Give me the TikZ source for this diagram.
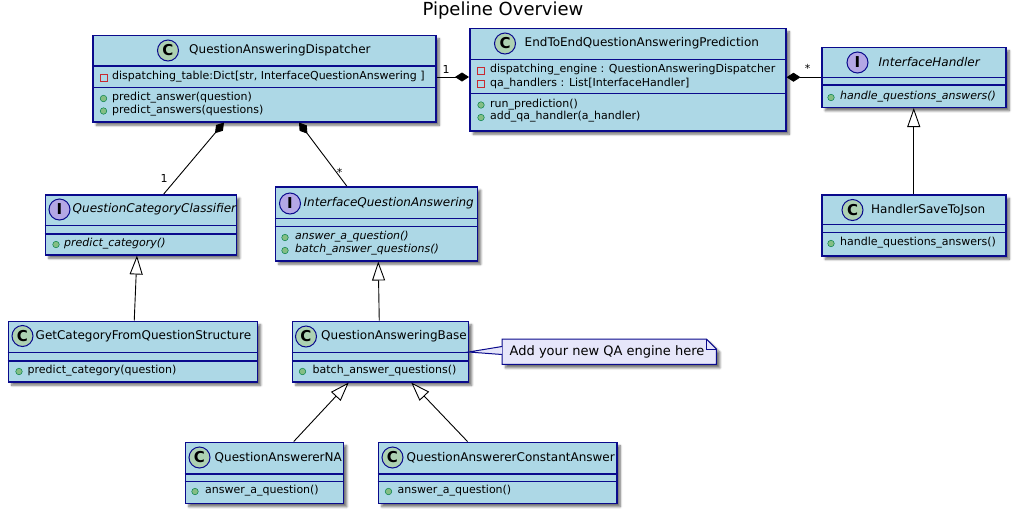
\documentclass[tikz,border=0pt]{standalone}
\usepackage{fontspec}
\setmainfont{DejaVu Sans}
\usetikzlibrary{shadows.blur,arrows.meta}
\definecolor{cfill}{HTML}{ADD8E6}
\definecolor{cbord}{HTML}{0A0A8C}
\definecolor{notefill}{HTML}{E6E6FA}
\definecolor{cicon}{HTML}{ADD1B2}
\definecolor{iicon}{HTML}{B4A7E5}
\definecolor{privred}{HTML}{C82930}
\definecolor{pubfill}{HTML}{84BE84}
\definecolor{pubbord}{HTML}{038048}
\tikzset{
  classbox/.style={draw=cbord, fill=cfill, line width=1.5pt, inner sep=0pt,
    blur shadow={shadow xshift=3.5pt, shadow yshift=-3.5pt, shadow blur steps=6, shadow opacity=55}},
  divline/.style={draw=cbord, line width=1.5pt},
  cname/.style={anchor=west, inner sep=0pt, font=\fontsize{12}{14}\selectfont},
  member/.style={anchor=west, inner sep=0pt, font=\fontsize{11}{13}\selectfont},
  iconC/.style={circle, draw=cbord, fill=cicon, line width=1pt, minimum size=21pt, inner sep=0pt, font=\fontsize{15}{15}\selectfont\bfseries},
  iconI/.style={circle, draw=cbord, fill=iicon, line width=1pt, minimum size=21pt, inner sep=0pt, font=\fontsize{15}{15}\selectfont\bfseries},
  pub/.style={circle, draw=pubbord, fill=pubfill, line width=0.5pt, minimum size=6.5pt, inner sep=0pt},
  priv/.style={rectangle, draw=privred, line width=1pt, minimum size=7pt, inner sep=0pt},
  conn/.style={draw=black, line width=0.9pt},
  comp/.style={conn, -{Diamond[length=14pt,width=9pt,fill=black]}},
  inh/.style={conn, -{Triangle[open,length=19pt,width=13pt,fill=white]}},
  mult/.style={inner sep=0pt, font=\fontsize{11}{13}\selectfont},
}
% name, x1, y1, x2, y2, d1, d2
\newcommand\umlclass[7]{%
  \node[classbox, anchor=north west, minimum width=#4pt-#2pt, minimum height=#5pt-#3pt] (#1) at (#2,#3) {};
  \draw[divline] (#2,#6) -- (#4,#6);
  \draw[divline] (#2,#7) -- (#4,#7);
}
\begin{document}
\begin{tikzpicture}[x=1pt, y=-1pt]
\useasboundingbox (0,0) rectangle (1018,515);

\node[inner sep=0pt, font=\fontsize{18}{20}\selectfont] (title) at (503,11) {Pipeline Overview};

% ---------- QuestionAnsweringDispatcher
\umlclass{disp}{92}{34.5}{435}{121}{66}{87.5}
\node[iconC] (dispI) at (168,50.5) {C};
\node[cname] (dispN) at (189,50.5) {QuestionAnsweringDispatcher};
\node[priv] (dispA1i) at (103.5,77.5) {};
\node[member] (dispA1) at (112,77) {dispatching\_table:Dict[str, InterfaceQuestionAnswering ]};
\node[pub] (dispM1i) at (103.5,98.5) {};
\node[member] (dispM1) at (112,97.5) {predict\_answer(question)};
\node[pub] (dispM2i) at (103.5,111) {};
\node[member] (dispM2) at (112,110.5) {predict\_answers(questions)};

% ---------- EndToEndQuestionAnsweringPrediction
\umlclass{e2e}{469}{27.5}{785}{130}{59.5}{93.5}
\node[iconC] (e2eI) at (505,43.5) {C};
\node[cname] (e2eN) at (524.5,43.5) {EndToEndQuestionAnsweringPrediction};
\node[priv] (e2eA1i) at (481,70.5) {};
\node[member] (e2eA1) at (490,70) {dispatching\_engine : QuestionAnsweringDispatcher};
\node[priv] (e2eA2i) at (481,84) {};
\node[member] (e2eA2) at (490,83.5) {qa\_handlers : List[InterfaceHandler]};
\node[pub] (e2eM1i) at (481,105) {};
\node[member] (e2eM1) at (490,104.5) {run\_prediction()};
\node[pub] (e2eM2i) at (481,117.5) {};
\node[member] (e2eM2) at (490,117) {add\_qa\_handler(a\_handler)};

% ---------- InterfaceHandler
\umlclass{ih}{821}{46.5}{1005}{106.5}{77.5}{85}
\node[iconI] (ihI) at (857.5,62.5) {I};
\node[cname, font=\fontsize{12}{14}\selectfont\itshape] (ihN) at (878.5,62.5) {InterfaceHandler};
\node[pub] (ihM1i) at (831,97.5) {};
\node[member, font=\fontsize{11}{13}\selectfont\itshape] (ihM1) at (840,97) {handle\_questions\_answers()};

% ---------- HandlerSaveToJson
\umlclass{hsj}{821}{194}{1005}{255}{224.5}{232.5}
\node[iconC] (hsjI) at (852.5,210) {C};
\node[cname] (hsjN) at (871,210) {HandlerSaveToJson};
\node[pub] (hsjM1i) at (831,243.5) {};
\node[member] (hsjM1) at (840,243) {handle\_questions\_answers()};

% ---------- QuestionCategoryClassifier
\umlclass{qcc}{44.5}{194}{235.5}{254}{225.5}{234}
\node[iconI] (qccI) at (59.5,209.5) {I};
\node[cname, font=\fontsize{12}{14}\selectfont\itshape] (qccN) at (72.5,209.5) {QuestionCategoryClassifier};
\node[pub] (qccM1i) at (56,244.5) {};
\node[member, font=\fontsize{11}{13}\selectfont\itshape] (qccM1) at (64,244) {predict\_category()};

% ---------- GetCategoryFromQuestionStructure
\umlclass{gcf}{7.5}{320.5}{256.5}{381}{352.5}{361}
\node[iconC] (gcfI) at (22.5,336) {C};
\node[cname] (gcfN) at (35.5,336) {GetCategoryFromQuestionStructure};
\node[pub] (gcfM1i) at (19,371.5) {};
\node[member] (gcfM1) at (27.5,371) {predict\_category(question)};

% ---------- InterfaceQuestionAnswering
\umlclass{iqa}{274.5}{186}{476.5}{260}{218.5}{226.5}
\node[iconI] (iqaI) at (290,203.5) {I};
\node[cname, font=\fontsize{12}{14}\selectfont\itshape] (iqaN) at (303.5,203.5) {InterfaceQuestionAnswering};
\node[pub] (iqaM1i) at (285,237.5) {};
\node[member, font=\fontsize{11}{13}\selectfont\itshape] (iqaM1) at (295,237) {answer\_a\_question()};
\node[pub] (iqaM2i) at (285,250.5) {};
\node[member, font=\fontsize{11}{13}\selectfont\itshape] (iqaM2) at (295,250) {batch\_answer\_questions()};

% ---------- QuestionAnsweringBase
\umlclass{qab}{291.5}{320.5}{467.5}{381}{352.5}{361}
\node[iconC] (qabI) at (306,336.5) {C};
\node[cname] (qabN) at (321,336.5) {QuestionAnsweringBase};
\node[pub] (qabM1i) at (302.5,371.5) {};
\node[member] (qabM1) at (312.5,371) {batch\_answer\_questions()};

% ---------- QuestionAnswererNA
\umlclass{qana}{184.5}{441.5}{342.5}{502.5}{474}{481.5}
\node[iconC] (qanaI) at (199.5,457.5) {C};
\node[cname] (qanaN) at (214.5,457.5) {QuestionAnswererNA};
\node[pub] (qanaM1i) at (195,491.5) {};
\node[member] (qanaM1) at (205,491) {answer\_a\_question()};

% ---------- QuestionAnswererConstantAnswer
\umlclass{qaca}{377.5}{441.5}{616}{502.5}{474}{481.5}
\node[iconC] (qacaI) at (392.5,457.5) {C};
\node[cname] (qacaN) at (406.5,457.5) {QuestionAnswererConstantAnswer};
\node[pub] (qacaM1i) at (388.5,491.5) {};
\node[member] (qacaM1) at (397.5,491) {answer\_a\_question()};

% ---------- Note
\node[anchor=north west, minimum width=214pt, minimum height=25pt, inner sep=0pt] (note) at (502,339) {};
\path[blur shadow={shadow xshift=3.5pt, shadow yshift=-3.5pt, shadow blur steps=6, shadow opacity=55}]
  (note.north west) -- ([xshift=-10pt]note.north east) -- ([yshift=-10pt]note.north east) -- (note.south east) -- (note.south west) -- cycle;
\draw[draw=cbord, fill=notefill, line width=1pt]
  (note.north west) -- ([xshift=-10pt]note.north east) -- ([yshift=-10pt]note.north east) -- (note.south east) -- (note.south west) -- cycle;
\draw[draw=cbord, line width=1pt]
  ([xshift=-10pt]note.north east) -- ([xshift=-10pt,yshift=-10pt]note.north east) -- ([yshift=-10pt]note.north east);
\node[member, font=\fontsize{13}{15}\selectfont] (noteT) at (509.5,351.5) {Add your new QA engine here};
\fill[notefill] ([xshift=-0.5pt,yshift=-31.5pt]qab.north east) -- ([yshift=-7.5pt]note.north west) -- ([yshift=-15.5pt]note.north west) -- cycle;
\draw[draw=cbord, line width=1pt] ([yshift=-7.5pt]note.north west) -- ([xshift=-0.5pt,yshift=-31.5pt]qab.north east) -- ([yshift=-15.5pt]note.north west);

% ---------- Connectors
\draw[comp] (disp.east |- 0,77) -- (e2e.west |- 0,77);
\node[mult] (m1) at (446,69) {1};
\draw[comp] (ih.west) -- (e2e.east |- ih.west);
\node[mult] (m2) at (807.5,68.5) {*};

\draw[comp] ([xshift=23pt]qcc.north) -- ([xshift=132pt]disp.south west);
\node[mult] (m3) at (164,178.5) {1};
\draw[comp] ([xshift=-29.5pt]iqa.north) -- ([xshift=207pt]disp.south west);
\node[mult] (m4) at (339.5,172) {*};

\draw[inh] ([xshift=1.5pt]gcf.north) -- ([xshift=-3.8pt]qcc.south);
\draw[inh] ([xshift=-1pt]qab.north) -- ([xshift=2pt]iqa.south);
\draw[inh] ([xshift=29.5pt]qana.north) -- ([xshift=-31.5pt]qab.south);
\draw[inh] ([xshift=-30pt]qaca.north) -- ([xshift=31pt]qab.south);
\draw[inh] (hsj.north) -- (ih.south);
\end{tikzpicture}
\end{document}
